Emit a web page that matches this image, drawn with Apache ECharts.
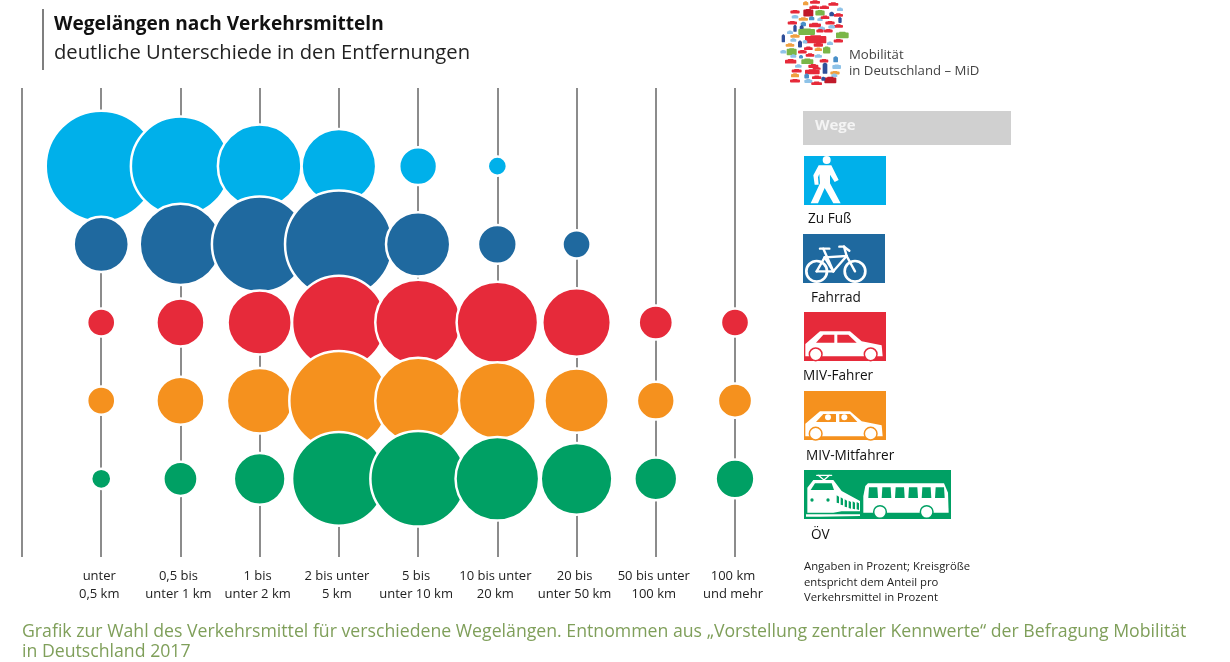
<!DOCTYPE html>
<html>
<head>
<meta charset="utf-8">
<title>Wegelängen nach Verkehrsmitteln</title>
<script src="https://cdn.jsdelivr.net/npm/echarts@6/dist/echarts.min.js"></script>
<style>
html,body{margin:0;padding:0;background:#fff}
#chart{width:1230px;height:662px}
</style>
</head>
<body>
<div id="chart"></div>
<script>
// Spalten (erste Spalte leer = linke Randlinie), Zeilen
var distanzen = ['', 'unter\n0,5 km', '0,5 bis\nunter 1 km', '1 bis\nunter 2 km', '2 bis unter\n5 km', '5 bis\nunter 10 km', '10 bis unter\n20 km', '20 bis\nunter 50 km', '50 bis unter\n100 km', '100 km\nund mehr'];
var zeilen = ['oben', 'Zu Fuß', 'Fahrrad', 'MIV-Fahrer', 'MIV-Mitfahrer', 'ÖV', 'unten'];

var zuFuss = [34, 27, 19, 15, 3.6, 0.8, null, null, null];
var fahrrad = [8, 18, 25, 32, 11, 3.8, 1.9, null, null];
var mivFahrer = [1.9, 6, 11, 24, 20, 18, 12.6, 2.9, 1.9];
var mivMitfahrer = [1.9, 6, 11.5, 27, 20, 16, 11, 3.6, 2.9];
var oev = [0.9, 2.9, 7, 24, 25, 19, 13.8, 4.7, 3.8];

var farben = {blau:'#00b0ea', dunkelblau:'#1f699f', rot:'#e62a3a', orange:'#f5911e', gruen:'#00a064'};

function reihe(name, werte, farbe){
	var daten = [];
	werte.forEach(function(v, i){
		if(v !== null){ daten.push([distanzen[i+1], name, v]); }
	});
	return {
		name: name,
		type: 'scatter',
		data: daten,
		symbolSize: function(d){ return 2.5 + 18.6*Math.sqrt(d[2]); },
		itemStyle: {color: farbe, borderColor: '#fff', borderWidth: 2.5, opacity: 1},
		clip: false
	};
}

// --- Zeichenhelfer fuer die Piktogramme, Koordinaten aus 3x Ausschnitten ---
var g = [];
function zx(ox, x){ return ox + x/3; }
function poly(ox, oy, pts, fill){
	g.push({type:'polygon', silent:true, shape:{points:pts.map(function(p){ return [zx(ox,p[0]), zx(oy,p[1])]; })}, style:{fill:fill}});
}
function kreis(ox, oy, x, y, r, fill, stroke, sw){
	g.push({type:'circle', silent:true, shape:{cx:zx(ox,x), cy:zx(oy,y), r:r/3}, style:{fill:fill||'none', stroke:stroke||null, lineWidth:sw||0}});
}
function linie(ox, oy, x1, y1, x2, y2, farbe, sw){
	g.push({type:'line', silent:true, shape:{x1:zx(ox,x1), y1:zx(oy,y1), x2:zx(ox,x2), y2:zx(oy,y2)}, style:{stroke:farbe, lineWidth:sw, lineCap:'round'}});
}
function box(x, y, w, h, farbe){
	g.push({type:'rect', silent:true, shape:{x:x, y:y, width:w, height:h}, style:{fill:farbe}});
}
function text(x, y, t, size, farbe, weight){
	g.push({type:'text', silent:true, x:x, y:y, style:{text:t, fontFamily:'Open Sans', fontSize:size, fill:farbe, fontWeight:weight||'normal', textVerticalAlign:'middle'}});
}

// Titelstrich
box(42, 9, 2, 61, '#7f7f7f');

// Legende
box(803, 111, 208, 34, '#d0d0d0');
text(815, 126, 'Wege', 15, '#f4f4f4', 'bold');

box(804, 156, 82, 49, farben.blau);
kreis(800, 152, 80, 24, 12, '#fff');
poly(800, 152, [[56,40],[94,40],[116,84],[104,90],[90,68],[90,94],[122,154],[100,154],[74,108],[54,154],[32,154],[60,94],[58,66],[54,76],[56,98],[44,98],[40,70]], '#fff');
text(808, 219, 'Zu Fuß', 13.6, '#111');

box(803, 234, 82, 49, farben.dunkelblau);
kreis(800, 152, 50, 358, 31, 'none', '#fff', 2.7);
kreis(800, 152, 165, 358, 31, 'none', '#fff', 2.7);
[[50,358,74,316],[74,316,100,358],[50,358,100,358],[74,316,140,312],[100,358,140,312],[140,312,165,358],[140,312,132,284],[132,284,118,284],[132,284,148,296],[70,290,100,358],[60,290,88,290]].forEach(function(l){
	linie(800, 152, l[0], l[1], l[2], l[3], '#fff', 2.4);
});
text(811, 298, 'Fahrrad', 13.6, '#111');

box(804, 312, 82, 49, farben.rot);
poly(800, 308, [[16,108],[60,70],[150,70],[185,100],[245,112],[248,145],[16,145]], '#fff');
poly(800, 308, [[48,104],[70,80],[103,80],[103,104]], farben.rot);
poly(800, 308, [[112,80],[145,80],[170,104],[112,104]], farben.rot);
kreis(800, 308, 47, 139, 19, '#fff', farben.rot, 1.5);
kreis(800, 308, 212, 139, 19, '#fff', farben.rot, 1.5);
text(803, 376, 'MIV-Fahrer', 13.6, '#111');

box(804, 391, 82, 49, farben.orange);
poly(800, 308, [[16,347],[60,310],[150,310],[185,340],[245,352],[248,385],[16,385]], '#fff');
poly(800, 308, [[48,342],[70,318],[108,318],[108,342]], farben.orange);
poly(800, 308, [[118,318],[150,318],[172,342],[118,342]], farben.orange);
kreis(800, 308, 84, 328, 9, '#fff');
kreis(800, 308, 133, 328, 9, '#fff');
kreis(800, 308, 47, 377, 19, '#fff', farben.orange, 1.5);
kreis(800, 308, 212, 377, 19, '#fff', farben.orange, 1.5);
text(806, 456, 'MIV-Mitfahrer', 13.6, '#111');

box(804, 470, 147, 49, farben.gruen);
linie(800, 466, 50, 28, 95, 28, '#fff', 1.3);
linie(800, 466, 55, 28, 72, 42, '#fff', 1.3);
linie(800, 466, 88, 28, 72, 42, '#fff', 1.3);
poly(800, 466, [[22,65],[40,42],[100,42],[125,75],[180,105],[180,136],[125,136],[100,140],[22,140]], '#fff');
poly(800, 466, [[32,72],[45,52],[95,52],[102,72]], farben.gruen);
kreis(800, 466, 36, 102, 5, farben.gruen);
kreis(800, 466, 84, 102, 5, farben.gruen);
[[110,88],[122,94],[134,100],[146,104],[158,106],[170,108]].forEach(function(f){
	poly(800, 466, [[f[0],f[1]],[f[0]+7,f[1]+4],[f[0]+7,f[1]+24],[f[0],f[1]+22]], farben.gruen);
});
poly(800, 466, [[18,145],[180,145],[180,150],[60,152],[18,152]], '#fff');
poly(800, 466, [[196,60],[204,52],[432,52],[444,80],[446,140],[190,140],[190,90]], '#fff');
[[205,234],[245,274],[285,314],[325,354],[365,394],[405,434]].forEach(function(f){
	poly(800, 466, [[f[0]+2,64],[f[1]-2,64],[f[1],96],[f[0],96]], farben.gruen);
});
kreis(800, 466, 240, 138, 19, '#fff', farben.gruen, 1.5);
kreis(800, 466, 380, 138, 19, '#fff', farben.gruen, 1.5);
text(811, 535, 'ÖV', 13.6, '#111');

text(804, 567, 'Angaben in Prozent; Kreisgröße', 11.3, '#222');
text(804, 583, 'entspricht dem Anteil pro', 11.3, '#222');
text(804, 598, 'Verkehrsmittel in Prozent', 11.3, '#222');

// Logo: kleine Fahrzeuge in Deutschlandform [x, y, breite, hoehe, farbe]
var r = '#e62a3a', hb = '#8fc3e8', db = '#2f4f9a', o = '#f0a040', gr = '#7ab648', dr = '#c01a2a', b = '#4a90c8';
var logoTeile = [
	[92,10,16,8,o],[120,6,30,7,r],[175,12,30,7,r],[118,22,30,7,r],[148,22,28,7,r],[195,28,18,7,hb],
	[100,38,30,15,dr],[135,38,28,11,gr],[60,35,28,7,r],[170,42,14,9,db],[190,45,28,7,r],
	[60,50,20,7,hb],[85,57,28,7,o],[110,55,16,8,b],[135,58,16,7,hb],[150,52,26,7,r],[195,60,10,12,db],
	[52,68,28,7,r],[85,72,16,9,b],[120,75,36,9,r],[165,68,28,7,r],[190,78,28,7,r],
	[60,85,10,14,db],[80,85,12,12,db],[140,85,20,7,hb],[170,80,20,7,hb],
	[95,95,50,13,gr],[45,97,18,7,hb],[160,92,26,7,r],[135,92,22,7,r],[202,105,38,13,gr],
	[25,115,10,16,db],[60,108,28,7,o],[122,118,64,16,r],[55,120,18,7,hb],[190,122,28,7,r],
	[45,135,26,7,o],[75,132,12,14,db],[130,134,28,8,r],[165,130,18,7,hb],[90,125,14,7,hb],
	[50,155,30,14,gr],[25,155,18,7,hb],[100,145,26,7,r],[130,148,22,7,o],[155,150,22,14,gr],[82,155,26,7,r],
	[55,168,18,7,hb],[105,165,26,7,r],[130,168,22,7,hb],[78,170,12,7,b],
	[47,184,34,9,r],[97,184,36,11,gr],[147,182,26,7,r],[182,178,14,12,b],
	[70,198,20,7,hb],[115,198,30,8,r],[150,205,14,22,db],[185,200,26,9,hb],
	[65,212,30,7,r],[112,215,44,10,r],[180,218,28,7,o],[125,205,24,6,r],
	[60,226,24,8,o],[95,228,14,10,b],[125,232,28,7,r],[178,226,18,7,hb],
	[60,242,30,7,r],[100,243,24,8,hb],[125,250,32,7,r],[166,240,36,13,dr],[145,236,12,8,db]
];
logoTeile.forEach(function(t){
	var h = t[3]*1.5;
	// Karosserie plus schmaleres Dach, wirkt in der Groesse wie ein Auto
	g.push({type:'rect', silent:true, shape:{x:zx(775,t[0]-t[2]/2), y:t[1]/3-h/6+0.7, width:t[2]/3, height:h/3-0.7, r:0.9}, style:{fill:t[4]}});
	g.push({type:'rect', silent:true, shape:{x:zx(775,t[0]-t[2]/4), y:t[1]/3-h/6, width:t[2]/6, height:h/6, r:0.5}, style:{fill:t[4]}});
});
text(849, 55, 'Mobilität', 13.2, '#444');
text(849, 71, 'in Deutschland – MiD', 13.2, '#444');

// Bildunterschrift
text(22, 632, 'Grafik zur Wahl des Verkehrsmittel für verschiedene Wegelängen. Entnommen aus „Vorstellung zentraler Kennwerte“ der Befragung Mobilität', 17.7, '#7f9f5a');
text(22, 652, 'in Deutschland 2017', 17.7, '#7f9f5a');

var myChart = echarts.init(document.getElementById('chart'));
var option = {
	animation: false,
	backgroundColor: '#fff',
	title: {
		text: 'Wegelängen nach Verkehrsmitteln',
		subtext: 'deutliche Unterschiede in den Entfernungen',
		left: 54,
		top: 15,
		itemGap: 9,
		padding: 0,
		textStyle: {fontFamily:'Open Sans', fontSize:19.1, fontWeight:'bold', color:'#111'},
		subtextStyle: {fontFamily:'Open Sans', fontSize:20.2, color:'#222'}
	},
	grid: {left:22, right:495, top:88, bottom:105},
	xAxis: {
		type: 'category',
		data: distanzen,
		boundaryGap: false,
		axisLine: {show:false},
		axisTick: {show:false},
		splitLine: {show:true, lineStyle:{color:'#666', width:1.5}},
		axisLabel: {interval:0, margin:10, fontFamily:'Open Sans', fontSize:13, lineHeight:18, color:'#222', padding:[0,4,0,0]}
	},
	yAxis: {
		type: 'category',
		data: zeilen,
		inverse: true,
		boundaryGap: false,
		axisLine: {show:false},
		axisTick: {show:false},
		axisLabel: {show:false},
		splitLine: {show:false}
	},
	series: [
		reihe('Zu Fuß', zuFuss, farben.blau),
		reihe('Fahrrad', fahrrad, farben.dunkelblau),
		reihe('MIV-Fahrer', mivFahrer, farben.rot),
		reihe('MIV-Mitfahrer', mivMitfahrer, farben.orange),
		reihe('ÖV', oev, farben.gruen)
	],
	graphic: g
};
myChart.setOption(option);
</script>
</body>
</html>
